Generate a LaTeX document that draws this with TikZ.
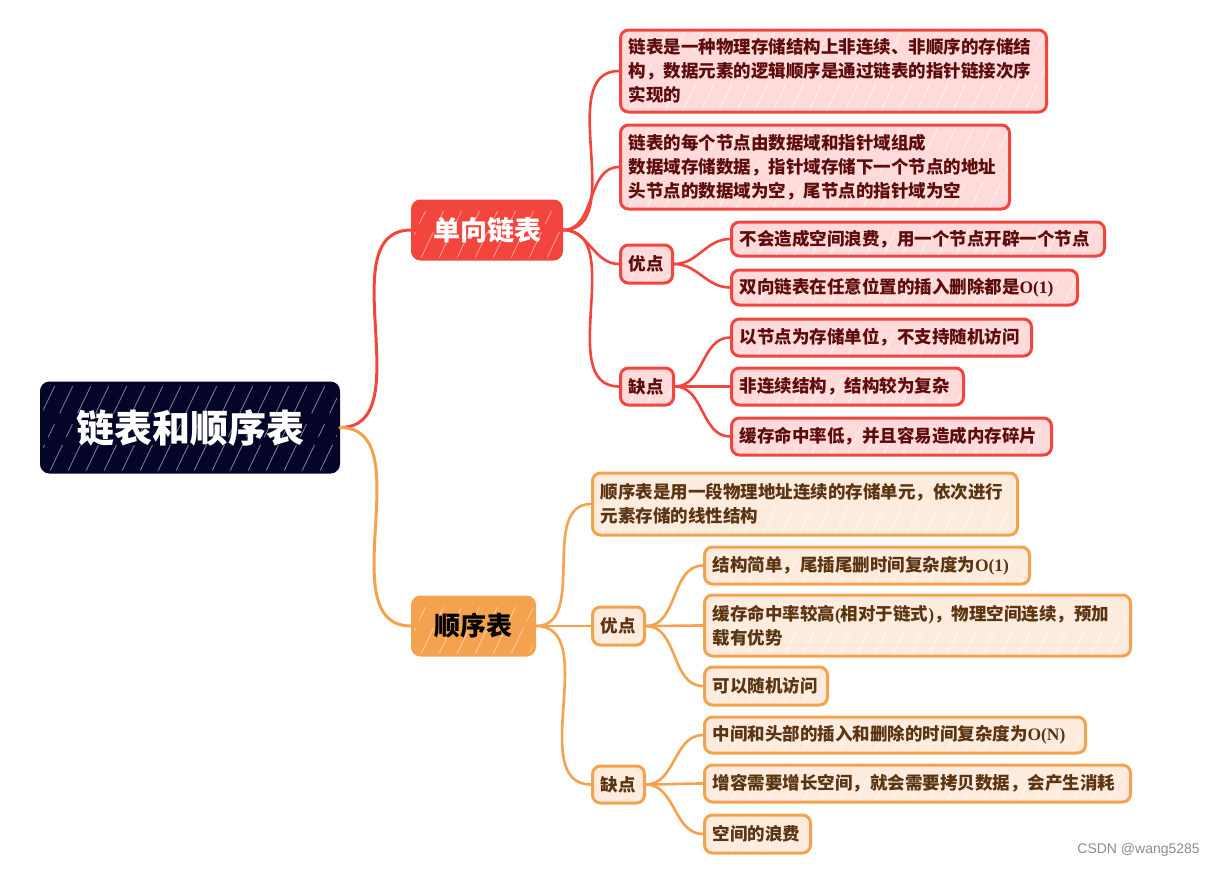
\documentclass[tikz,border=0pt]{standalone}
\usepackage{fontspec}
\newfontfamily\cjk{Noto Sans CJK SC}
\newfontfamily\lat{Liberation Serif}
\newfontfamily\wm{Liberation Sans}
\newcommand\ltn[1]{{\lat\bfseries #1}}
\definecolor{navy}{HTML}{05052A}
\definecolor{rmain}{HTML}{F2453D}
\definecolor{rleaf}{HTML}{FFDADA}
\definecolor{rtext}{HTML}{5E0B0B}
\definecolor{omain}{HTML}{F5A24F}
\definecolor{oleaf}{HTML}{FDEBDD}
\definecolor{otext}{HTML}{5B3411}
\tikzset{
  hatch/.style={path picture={
    \foreach \k in {-100,-82,...,460} {
      \draw[#1, line width=0.8pt, dash pattern=on 30pt off 9pt on 14pt off 12pt]
        ([xshift=\k pt]path picture bounding box.south west) -- ++(48,-100);
    }}},
  box/.style={rounded corners=8pt, line width=3pt, anchor=west, inner xsep=8pt, inner ysep=0pt,
    align=left, font=\cjk\bfseries\fontsize{17.5}{24}\selectfont},
  rbox/.style={box, draw=rmain, fill=rleaf, text=rtext, hatch={white,opacity=0.7}},
  obox/.style={box, draw=omain, fill=oleaf, text=otext, hatch={white,opacity=0.7}},
  rl/.style={draw=rmain, line width=2.6pt, line cap=round},
  ol/.style={draw=omain, line width=2.6pt, line cap=round},
}
\begin{document}
\begin{tikzpicture}[x=1pt,y=-1pt]
\useasboundingbox (0,0) rectangle (1215,868);
% root and branches
\node[box, draw=navy, fill=navy, text=white, minimum width=297pt, minimum height=89pt, align=center,
  font=\cjk\bfseries\fontsize{38}{40}\selectfont, hatch={white,opacity=0.5}] (root) at (40,427.5) {链表和顺序表};
\node[box, draw=rmain, fill=rmain, text=white, minimum width=149pt, minimum height=58pt, align=center,
  font=\cjk\bfseries\fontsize{27}{30}\selectfont, hatch={white,opacity=0.5}] (b1) at (411,230) {单向链表};
\node[box, draw=omain, fill=omain, text=black, minimum width=122pt, minimum height=58pt, align=center,
  font=\cjk\bfseries\fontsize{26}{30}\selectfont, hatch={white,opacity=0.5}] (b2) at (411,626) {顺序表};
% red leaves
\node[rbox, text width=410pt, minimum height=82pt] (r1) at (619,71) {链表是一种物理存储结构上非连续、非顺序的存储结\\构，数据元素的逻辑顺序是通过链表的指针链接次序\\实现的};
\node[rbox, text width=373pt, minimum height=84pt] (r2) at (619,167) {链表的每个节点由数据域和指针域组成\\数据域存储数据，指针域存储下一个节点的地址\\头节点的数据域为空，尾节点的指针域为空};
\node[rbox, text width=36pt, minimum height=38pt] (ryou) at (619,264) {优点};
\node[rbox, text width=37pt, minimum height=37pt] (rque) at (619,386.5) {缺点};
\node[rbox, text width=357pt, minimum height=34pt] (ry1) at (730,239) {不会造成空间浪费，用一个节点开辟一个节点};
\node[rbox, text width=330pt, minimum height=35pt] (ry2) at (730,287.5) {双向链表在任意位置的插入删除都是\ltn{O(1)}};
\node[rbox, text width=284pt, minimum height=37pt] (rq1) at (730,337.5) {以节点为存储单位，不支持随机访问};
\node[rbox, text width=216pt, minimum height=37pt] (rq2) at (730,386.5) {非连续结构，结构较为复杂};
\node[rbox, text width=304pt, minimum height=37pt] (rq3) at (730,436.5) {缓存命中率低，并且容易造成内存碎片};
% orange leaves
\node[obox, text width=409pt, minimum height=62pt] (o1) at (591,504) {顺序表是用一段物理地址连续的存储单元，依次进行\\元素存储的线性结构};
\node[obox, text width=36pt, minimum height=38pt] (oyou) at (591,626) {优点};
\node[obox, text width=36pt, minimum height=37pt] (oque) at (591,784.5) {缺点};
\node[obox, text width=309pt, minimum height=37pt] (oy1) at (703,565.5) {结构简单，尾插尾删时间复杂度为\ltn{O(1)}};
\node[obox, text width=410pt, minimum height=61pt] (oy2) at (703,625.5) {缓存命中率较高\ltn{(}相对于链式\ltn{)}，物理空间连续，预加\\载有优势};
\node[obox, text width=107pt, minimum height=38pt] (oy3) at (703,686) {可以随机访问};
\node[obox, text width=365pt, minimum height=36pt] (oq1) at (703,735) {中间和头部的插入和删除的时间复杂度为\ltn{O(N)}};
\node[obox, text width=410pt, minimum height=37pt] (oq2) at (703,783.5) {增容需要增长空间，就会需要拷贝数据，会产生消耗};
\node[obox, text width=90pt, minimum height=38pt] (oq3) at (703,834) {空间的浪费};
% connectors
\draw[rl, line width=3pt] (root.east) to[out=0,in=180] (b1.west);
\draw[ol, line width=3pt] (root.east) to[out=0,in=180] (b2.west);
\foreach \t in {r1,r2,ryou,rque} \draw[rl] (b1.east) to[out=0,in=180] (\t.west);
\foreach \t in {ry1,ry2} \draw[rl] (ryou.east) to[out=0,in=180] (\t.west);
\foreach \t in {rq1,rq2,rq3} \draw[rl] (rque.east) to[out=0,in=180] (\t.west);
\foreach \t in {o1,oyou,oque} \draw[ol] (b2.east) to[out=0,in=180] (\t.west);
\foreach \t in {oy1,oy2,oy3} \draw[ol] (oyou.east) to[out=0,in=180] (\t.west);
\foreach \t in {oq1,oq2,oq3} \draw[ol] (oque.east) to[out=0,in=180] (\t.west);
% watermark
\node[anchor=east, text=black!45, font=\wm\fontsize{14}{16}\selectfont, inner sep=0pt] (wm) at (1200,850) {CSDN @wang5285};
\end{tikzpicture}
\end{document}
